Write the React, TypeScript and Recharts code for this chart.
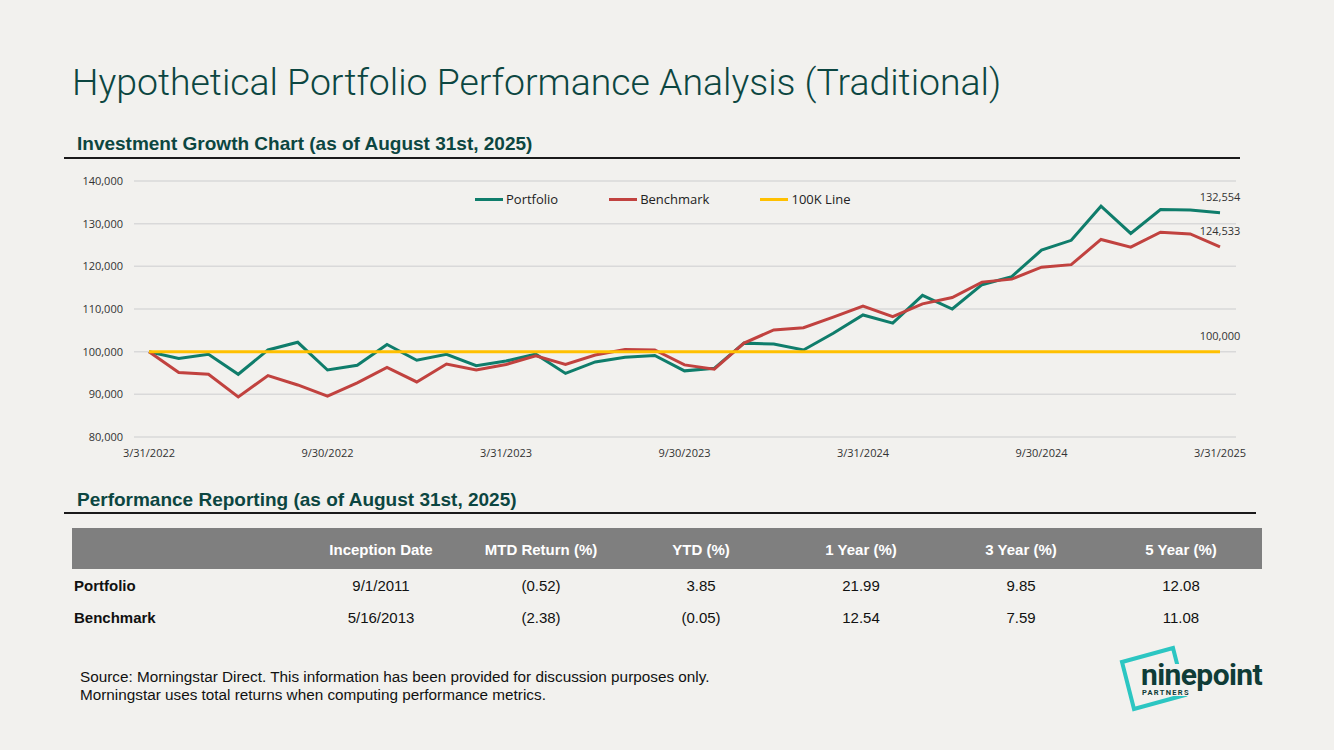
import React from 'react';
import { LineChart, Line, XAxis, YAxis, CartesianGrid, Legend } from 'recharts';

// month-end valuation dates
const dates = [
  '3/31/2022', '4/30/2022', '5/31/2022', '6/30/2022', '7/31/2022', '8/31/2022',
  '9/30/2022', '10/31/2022', '11/30/2022', '12/31/2022', '1/31/2023', '2/28/2023',
  '3/31/2023', '4/30/2023', '5/31/2023', '6/30/2023', '7/31/2023', '8/31/2023',
  '9/30/2023', '10/31/2023', '11/30/2023', '12/31/2023', '1/31/2024', '2/29/2024',
  '3/31/2024', '4/30/2024', '5/31/2024', '6/30/2024', '7/31/2024', '8/31/2024',
  '9/30/2024', '10/31/2024', '11/30/2024', '12/31/2024', '1/31/2025', '2/28/2025',
  '3/31/2025',
];

const portfolio = [
  100000, 98400, 99400, 94700, 100400, 102200, 95700, 96800, 101700, 98000,
  99400, 96700, 97800, 99400, 94900, 97600, 98700, 99100, 95500, 96100,
  102000, 101800, 100400, 104300, 108600, 106700, 113200, 110000, 115700, 117600,
  123800, 126100, 134100, 127700, 133300, 133200, 132554,
];

const benchmark = [
  100000, 95100, 94700, 89400, 94400, 92200, 89600, 92700, 96300, 92900,
  97100, 95700, 97000, 99000, 97000, 99200, 100500, 100400, 96900, 95900,
  102000, 105100, 105600, 108100, 110700, 108200, 111200, 112700, 116300, 117000,
  119800, 120400, 126300, 124500, 128000, 127600, 124533,
];

const hundredK = [
  100000, 100000, 100000, 100000, 100000, 100000, 100000, 100000, 100000, 100000,
  100000, 100000, 100000, 100000, 100000, 100000, 100000, 100000, 100000, 100000,
  100000, 100000, 100000, 100000, 100000, 100000, 100000, 100000, 100000, 100000,
  100000, 100000, 100000, 100000, 100000, 100000, 100000,
];

const yTicks = [80000, 90000, 100000, 110000, 120000, 130000, 140000];

const statColumns = ['Inception Date', 'MTD Return (%)', 'YTD (%)', '1 Year (%)', '3 Year (%)', '5 Year (%)'];
const portfolioStats = ['9/1/2011', '(0.52)', '3.85', '21.99', '9.85', '12.08'];
const benchmarkStats = ['5/16/2013', '(2.38)', '(0.05)', '12.54', '7.59', '11.08'];

const GREEN = '#0f7d6b';
const RED = '#c1423f';
const GOLD = '#ffc000';
const BG = '#f2f1ee';
const TEAL_TEXT = '#0c4641';

const chartData = dates.map((d, i) => ({
  date: d,
  portfolio: portfolio[i],
  benchmark: benchmark[i],
  hundredK: hundredK[i],
}));

const fmt = (n: number) => Number(n).toLocaleString('en-US');
const chartFont = '"Open Sans", sans-serif';

const legendItems = [
  { name: 'Portfolio', color: GREEN },
  { name: 'Benchmark', color: RED },
  { name: '100K Line', color: GOLD },
];

const renderLegend = () => (
  <div style={{ display: 'flex', gap: 51, fontFamily: chartFont, fontSize: 13, color: '#222' }}>
    {legendItems.map(item => (
      <div key={item.name} style={{ display: 'flex', alignItems: 'center' }}>
        <span style={{ width: 28, height: 3, background: item.color, marginRight: 3 }} />
        <span>{item.name}</span>
      </div>
    ))}
  </div>
);

// value label on the final point only
const endLabel = (props: any) => {
  const { x, y, index, value } = props;
  if (index !== dates.length - 1) return null;
  return (
    <text x={x} y={y - 12} textAnchor="middle" fontSize={11} fontFamily={chartFont} fill="#333">
      {fmt(value)}
    </text>
  );
};

const SectionHeading = ({ top, text, ruleTop, ruleWidth }: { top: number; text: string; ruleTop: number; ruleWidth: number }) => (
  <>
    <div style={{ position: 'absolute', left: 77, top, fontSize: 19, fontWeight: 700, lineHeight: '19px', color: TEAL_TEXT, whiteSpace: 'nowrap' }}>
      {text}
    </div>
    <div style={{ position: 'absolute', left: 64, top: ruleTop, width: ruleWidth, height: 2, background: '#1a1a1a' }} />
  </>
);

const colLeft = (i: number) => 301 + i * 160;

const StatRow = ({ label, values, top }: { label: string; values: string[]; top: number }) => (
  <>
    <div style={{ position: 'absolute', left: 74, top, fontSize: 15, fontWeight: 700, lineHeight: '18px', color: '#111' }}>{label}</div>
    {values.map((v, i) => (
      <div key={i} style={{ position: 'absolute', left: colLeft(i), top, width: 160, textAlign: 'center', fontSize: 15, lineHeight: '18px', color: '#111' }}>{v}</div>
    ))}
  </>
);

export default function App() {
  return (
    <div style={{ position: 'absolute', left: 0, top: 0, width: 1334, height: 750, background: BG, overflow: 'hidden', fontFamily: '"Liberation Sans", Arial, sans-serif' }}>
      <div style={{ position: 'absolute', left: 72, top: 64, fontSize: 37.4, fontWeight: 300, lineHeight: '37.4px', color: TEAL_TEXT, fontFamily: 'Roboto, sans-serif', whiteSpace: 'nowrap' }}>
        Hypothetical Portfolio Performance Analysis (Traditional)
      </div>

      <SectionHeading top={134} text="Investment Growth Chart (as of August 31st, 2025)" ruleTop={157} ruleWidth={1176} />

      <div style={{ position: 'absolute', left: 0, top: 170 }}>
        <LineChart width={1334} height={300} data={chartData} margin={{ top: 11, right: 98, bottom: 3, left: 74 }}>
          <CartesianGrid vertical={false} stroke="#d9d9d9" strokeWidth={1.5} />
          <XAxis
            dataKey="date"
            interval={5}
            padding={{ left: 15, right: 16 }}
            axisLine={false}
            tickLine={false}
            tickMargin={6}
            height={30}
            tick={{ fill: '#333', fontSize: 11, fontFamily: chartFont }}
          />
          <YAxis
            domain={[80000, 140000]}
            ticks={yTicks}
            width={60}
            axisLine={false}
            tickLine={false}
            tickMargin={5}
            tickFormatter={fmt}
            tick={{ fill: '#333', fontSize: 11, fontFamily: chartFont }}
          />
          <Legend
            layout="horizontal"
            verticalAlign="middle"
            align="center"
            content={renderLegend}
            wrapperStyle={{ top: 20, left: 475, width: 'auto' }}
          />
          <Line dataKey="portfolio" name="Portfolio" stroke={GREEN} strokeWidth={3} dot={false} isAnimationActive={false} label={endLabel} />
          <Line dataKey="benchmark" name="Benchmark" stroke={RED} strokeWidth={3} dot={false} isAnimationActive={false} label={endLabel} />
          <Line dataKey="hundredK" name="100K Line" stroke={GOLD} strokeWidth={3} dot={false} isAnimationActive={false} label={endLabel} />
        </LineChart>
      </div>

      <SectionHeading top={490} text="Performance Reporting (as of August 31st, 2025)" ruleTop={512} ruleWidth={1192} />

      <div style={{ position: 'absolute', left: 72, top: 528, width: 1190, height: 41, background: '#7f7f7f' }} />
      {statColumns.map((c, i) => (
        <div key={c} style={{ position: 'absolute', left: colLeft(i), top: 541, width: 160, textAlign: 'center', fontSize: 15, fontWeight: 700, lineHeight: '18px', color: '#fff' }}>{c}</div>
      ))}
      <StatRow label="Portfolio" values={portfolioStats} top={577} />
      <StatRow label="Benchmark" values={benchmarkStats} top={609} />

      <div style={{ position: 'absolute', left: 80, top: 668, fontSize: 15.3, lineHeight: '18px', color: '#111', whiteSpace: 'nowrap' }}>
        Source: Morningstar Direct. This information has been provided for discussion purposes only.<br />
        Morningstar uses total returns when computing performance metrics.
      </div>

      <svg style={{ position: 'absolute', left: 1110, top: 640 }} width={170} height={80}>
        <polygon points="12,22 63,8 75,55 24,69" fill="none" stroke="#2cc6c2" strokeWidth={4} strokeLinejoin="miter" />
        <rect x={30} y={24} width={128} height={32} fill={BG} />
        <text x={31} y={45} fontFamily="Roboto, sans-serif" fontWeight={700} fontSize={30} letterSpacing={-0.6} fill="#0f3c37">ninepoint</text>
        <text x={32} y={55} fontFamily="Roboto, sans-serif" fontWeight={700} fontSize={7.5} letterSpacing={1.3} fill="#0f3c37">PARTNERS</text>
      </svg>
    </div>
  );
}
